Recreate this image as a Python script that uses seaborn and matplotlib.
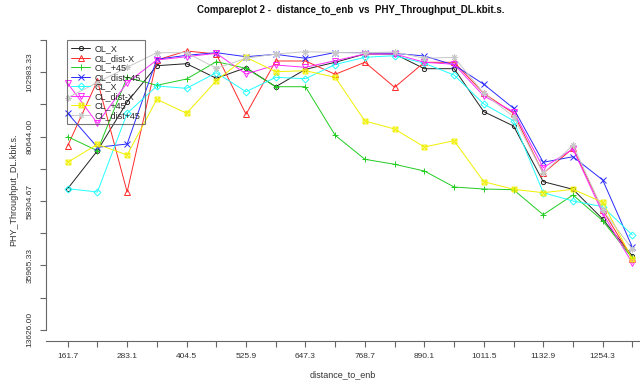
import numpy as np
import pandas as pd
import matplotlib
matplotlib.use("Agg")
import matplotlib.pyplot as plt
from matplotlib.path import Path
from matplotlib.ticker import FixedLocator, NullFormatter
import seaborn as sns

# distance bins (m)
distance = [161.7, 222.4, 283.1, 343.8, 404.5, 465.2, 525.9, 586.6, 647.3, 708.0,
            768.7, 829.4, 890.1, 950.8, 1011.5, 1072.2, 1132.9, 1193.6, 1254.3, 1315.0]

# PHY DL throughput (kbit/s) per configuration
ol_x = [62588, 75774, 92673, 105269, 105963, 100897, 104575, 97982, 104020, 106449,
        109329, 109329, 104228, 104228, 89307, 84345, 65017, 62380, 52074, 39235]
ol_dist_x = [77509, 100064, 61443, 107247, 110370, 109329, 88405, 106900, 106900, 102285,
             106449, 97774, 106449, 106449, 95692, 88752, 67932, 76607, 55197, 38194]
ol_p45 = [80632, 75774, 101244, 98468, 100654, 106657, 104367, 97982, 97982, 81118,
          72790, 71055, 68730, 63178, 62484, 62241, 53566, 60402, 51484, 38437]
ol_dist_p45 = [88752, 76954, 78099, 107490, 108878, 109780, 108392, 109225, 107837, 109849,
               109780, 109572, 108635, 105512, 98815, 90487, 71749, 73692, 65607, 42254]
cl_x = [62588, 61443, 88752, 98225, 97427, 102840, 96247, 101244, 100758, 105685,
        108184, 108739, 106102, 102042, 91979, 86184, 61200, 58320, 56342, 46522]
cl_dist_x = [99162, 85282, 99370, 107247, 108392, 109572, 102389, 105512, 104714, 107004,
             109329, 109329, 106449, 105755, 94755, 89307, 69875, 76364, 54052, 36702]
cl_p45 = [71749, 77995, 74282, 93610, 88752, 100064, 108184, 103187, 103534, 101244,
          86080, 83304, 77058, 79244, 65017, 62380, 61200, 62380, 57869, 38090]
cl_dist_p45 = [94165, 99439, 104714, 109780, 109780, 104367, 107837, 109329, 110127, 109849,
               109780, 110023, 107837, 108184, 95692, 87572, 67932, 77752, 55197, 41560]

series_names = ["OL_X", "OL_dist-X", "OL_+45", "OL_dist+45",
                "CL_X", "CL_dist-X", "CL_+45", "CL_dist+45"]
series_values = [ol_x, ol_dist_x, ol_p45, ol_dist_p45,
                 cl_x, cl_dist_x, cl_p45, cl_dist_p45]

y_ticks_major = [13626.00, 35965.33, 58304.67, 80644.00, 102983.33]
x_ticks_major = [161.7, 283.1, 404.5, 525.9, 647.3, 768.7, 890.1, 1011.5, 1132.9, 1254.3]

# square with a cross inside (open marker)
box_x = Path(
    [(-1, -1), (1, -1), (1, 1), (-1, 1), (-1, -1), (-1, -1), (1, 1), (-1, 1), (1, -1)],
    [Path.MOVETO, Path.LINETO, Path.LINETO, Path.LINETO, Path.LINETO,
     Path.MOVETO, Path.LINETO, Path.MOVETO, Path.LINETO])

colors = ["#222222", "#ff2a2a", "#22cc22", "#2a2aff",
          "#22ffff", "#ff2aff", "#f0f000", "#c8c8c8"]
markers = ["o", "^", "+", "x", "D", "v", box_x, (8, 2, 0)]
msizes = [3, 4, 5, 4, 3.5, 4, 3.5, 4.5]
open_marker = [True, True, False, False, True, True, True, False]

df = pd.concat(
    [pd.DataFrame({"distance_to_enb": distance, "throughput": vals, "series": name})
     for name, vals in zip(series_names, series_values)],
    ignore_index=True)

sns.set_style("white")
plt.rcParams["font.family"] = ["Liberation Sans", "DejaVu Sans"]

fig = plt.figure(figsize=(6.4, 3.84), dpi=100)
ax = fig.add_axes([46 / 640, 43 / 384, 594 / 640, 303 / 384])

for name, col, mk, ms, hollow in zip(series_names, colors, markers, msizes, open_marker):
    sub = df[df["series"] == name]
    sns.lineplot(data=sub, x="distance_to_enb", y="throughput", ax=ax,
                 color=col, linewidth=0.7, marker=mk, markersize=ms,
                 markerfacecolor=("none" if hollow else col),
                 markeredgecolor=col, markeredgewidth=0.7,
                 label=name, estimator=None, sort=False)

ax.set_xlim(117.4, 1330.5)
ax.set_ylim(9740, 114881)

# axes: left line between outer ticks, open right/top
for s in ("top", "right"):
    ax.spines[s].set_visible(False)
for s in ("left", "bottom"):
    ax.spines[s].set_color("#666666")
    ax.spines[s].set_linewidth(0.8)
step_y = y_ticks_major[1] - y_ticks_major[0]
ax.spines["left"].set_bounds(y_ticks_major[0], y_ticks_major[-1] + step_y / 2)

ax.xaxis.set_major_locator(FixedLocator(x_ticks_major))
ax.xaxis.set_minor_locator(FixedLocator([v + 60.7 for v in x_ticks_major]))
ax.set_xticklabels([f"{v:.1f}" for v in x_ticks_major])
ax.yaxis.set_major_locator(FixedLocator(y_ticks_major))
ax.yaxis.set_minor_locator(FixedLocator([v + step_y / 2 for v in y_ticks_major]))
ax.set_yticklabels([f"{v:.2f}" for v in y_ticks_major], rotation=90, va="center")
ax.xaxis.set_minor_formatter(NullFormatter())
ax.yaxis.set_minor_formatter(NullFormatter())

ax.tick_params(which="both", direction="out", length=4, width=0.8,
               color="#666666", labelsize=6, labelcolor="#333333")
ax.tick_params(axis="x", which="both", bottom=True, pad=5)
ax.tick_params(axis="y", which="both", left=True, pad=5)

ax.set_xlabel("distance_to_enb", fontsize=6.5, color="#333333", labelpad=7)
ax.set_ylabel("PHY_Throughput_DL.kbit.s.", fontsize=6.5, color="#333333", labelpad=6)

fig.text(351 / 640, 1 - 10 / 384,
         "Compareplot 2 -  distance_to_enb  vs  PHY_Throughput_DL.kbit.s.",
         ha="center", va="center", fontsize=7, fontweight="bold", color="#111111")

leg = ax.legend(loc="upper left", bbox_to_anchor=(0.035, 0.993), fontsize=6.5,
                frameon=True, fancybox=False, facecolor="none", edgecolor="#555555",
                handlelength=2.1, labelspacing=0.05, borderpad=0.5, handletextpad=0.45,
                borderaxespad=0)
leg.get_frame().set_linewidth(0.8)

fig.savefig("out.png", dpi=100)
